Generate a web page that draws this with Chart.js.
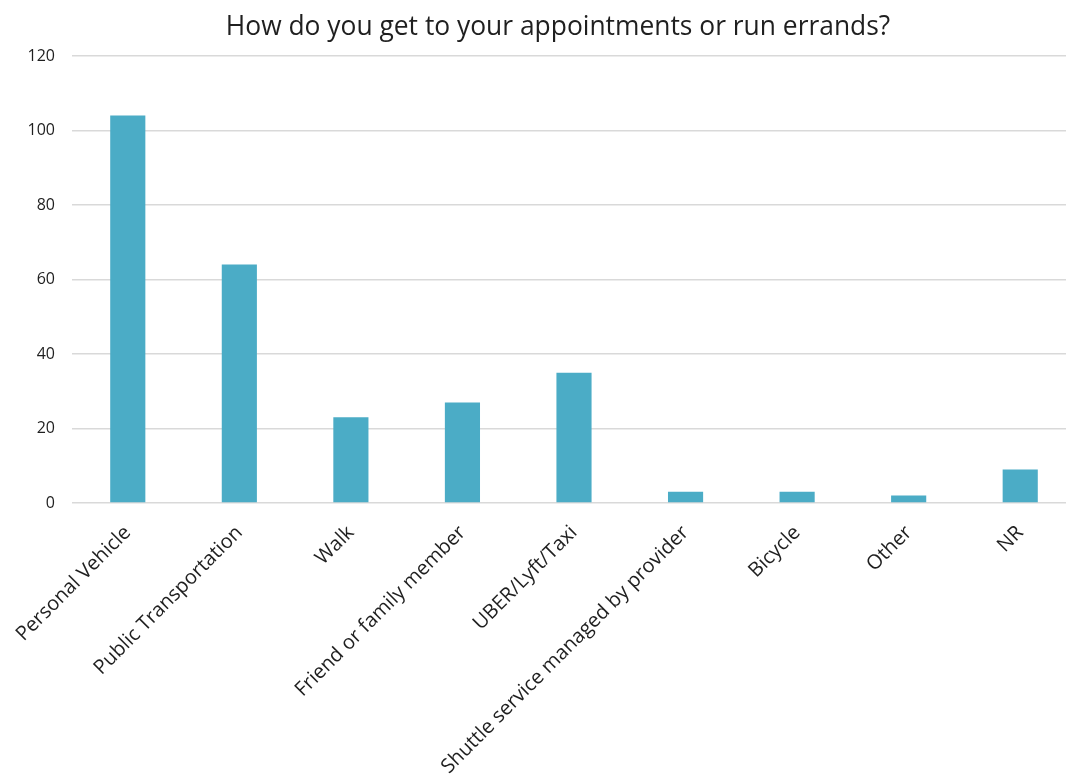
<!DOCTYPE html>
<html lang="en">
<head>
    <meta charset="UTF-8">
    <title>Appointments and errands</title>
    <script src="https://cdn.jsdelivr.net/npm/chart.js"></script>
    <style>
        html, body { margin: 0; padding: 0; background: #fff; overflow: hidden; }
        #chart { display: block; }
    </style>
</head>
<body>
    <canvas id="chart" width="1080" height="780"></canvas>

    <script>
        const chartTitle = 'How do you get to your appointments or run errands?';
        const categories = [
            'Personal Vehicle',
            'Public Transportation',
            'Walk',
            'Friend or family member',
            'UBER/Lyft/Taxi',
            'Shuttle service managed by provider',
            'Bicycle',
            'Other',
            'NR'
        ];
        const counts = [104, 64, 23, 27, 35, 3, 3, 2, 9];
        const yTicks = [0, 20, 40, 60, 80, 100, 120];

        const textColor = '#1f1f1f';
        const fontFamily = '"Open Sans", "Liberation Sans", sans-serif';

        // title sits a bit left of the plot centre, so draw it by hand
        const titlePlugin = {
            id: 'plainTitle',
            afterDraw(chart) {
                const ctx = chart.ctx;
                ctx.save();
                ctx.font = `26.4px ${fontFamily}`;
                ctx.fillStyle = textColor;
                ctx.textAlign = 'center';
                ctx.textBaseline = 'middle';
                ctx.fillText(chartTitle, 558, 27);
                ctx.restore();
            }
        };

        new Chart(document.getElementById('chart'), {
            type: 'bar',
            data: {
                labels: categories,
                datasets: [{
                    data: counts,
                    backgroundColor: '#4bacc6',
                    borderWidth: 0,
                    barPercentage: 0.315,
                    categoryPercentage: 1
                }]
            },
            options: {
                responsive: false,
                animation: false,
                layout: { padding: { top: 56, right: 4, left: 0, bottom: 0 } },
                plugins: {
                    legend: { display: false },
                    title: { display: false },
                    tooltip: { enabled: false }
                },
                scales: {
                    x: {
                        grid: { display: false },
                        border: { display: false },
                        ticks: {
                            autoSkip: false,
                            maxRotation: 45,
                            minRotation: 45,
                            padding: 10,
                            color: textColor,
                            font: { family: fontFamily, size: 20 }
                        },
                        afterFit(scale) { scale.height = 277; }
                    },
                    y: {
                        min: 0,
                        max: 120,
                        afterBuildTicks(scale) {
                            scale.ticks = yTicks.map(v => ({ value: v }));
                        },
                        grid: { color: '#d9d9d9', lineWidth: 1.5, drawTicks: false },
                        border: { display: false },
                        ticks: {
                            padding: 17,
                            color: textColor,
                            font: { family: fontFamily, size: 16 }
                        },
                        afterFit(scale) { scale.width = 72; }
                    }
                }
            },
            plugins: [titlePlugin]
        });
    </script>
</body>
</html>
